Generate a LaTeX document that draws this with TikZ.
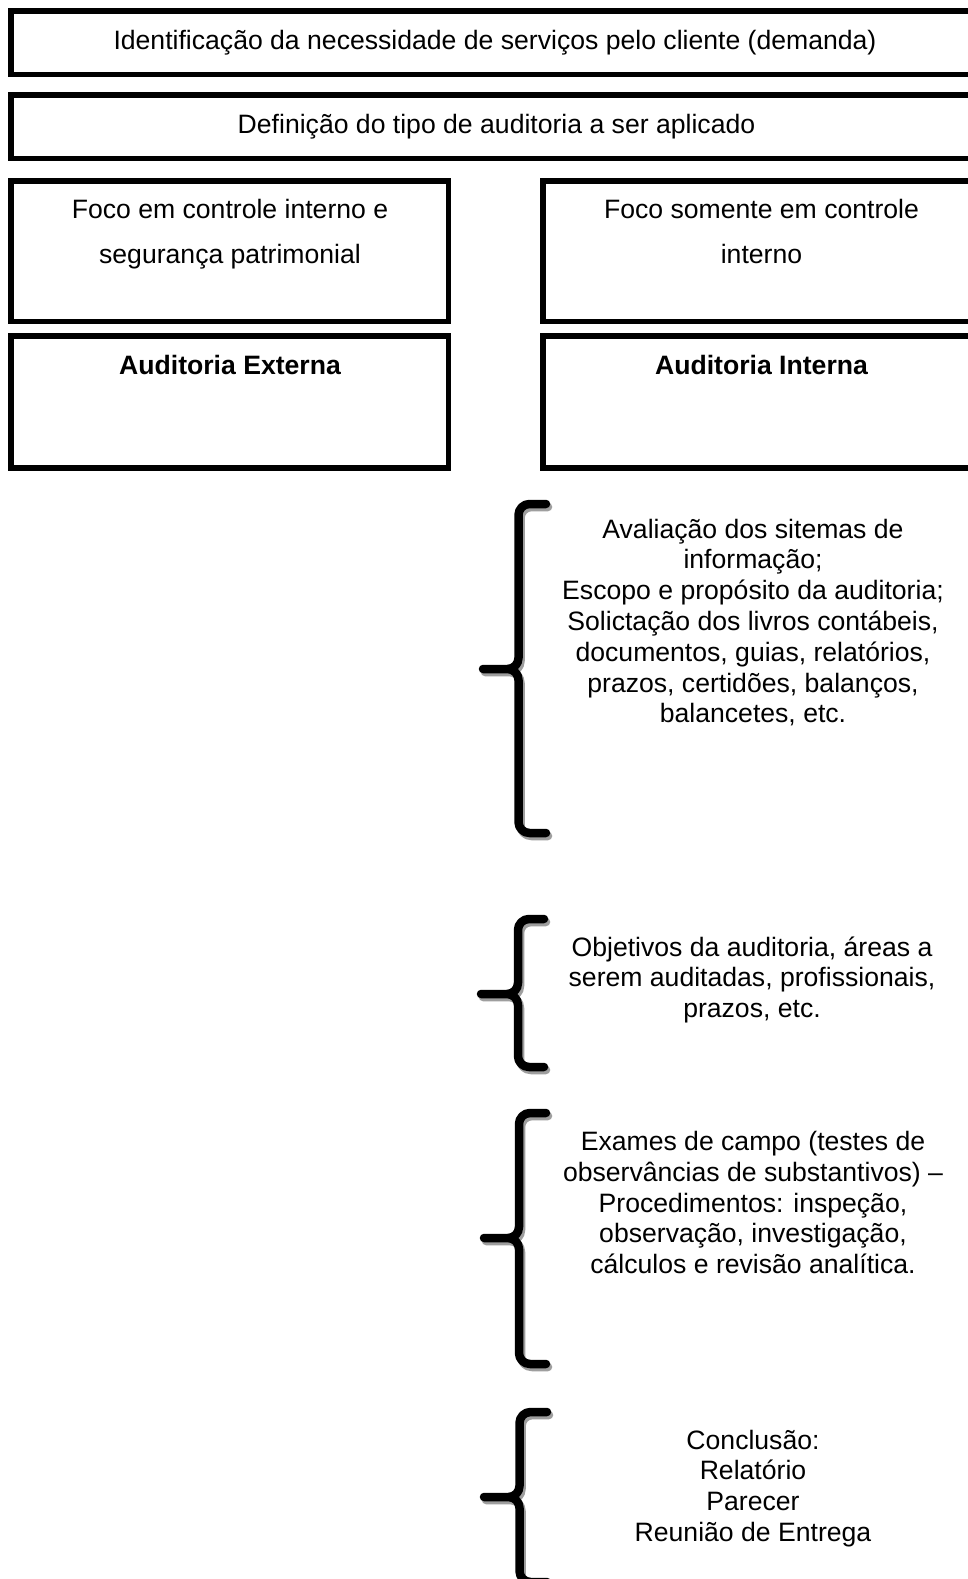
\documentclass[tikz,border=0pt]{standalone}
\usepackage{fontspec}
\setmainfont{Liberation Sans}

% curly brace with a soft grey drop shadow
% #1 stem x, #2 tip x, #3 arm end x, #4 top y, #5 tip y, #6 bottom y
\newcommand\auditbrace[6]{%
  \foreach \dx/\dy/\col in {2/3/black!38, 0/0/black}{%
    \draw[bracestroke, draw=\col, xshift=\dx pt, yshift=-\dy pt]
      (#3,#4) -- (#1,#4) -- (#1,#5) -- (#2,#5)
      (#2,#5) -- (#1,#5) -- (#1,#6) -- (#3,#6);
  }%
}

\begin{document}
\begin{tikzpicture}[x=1pt, y=-1pt,
  frame/.style={draw=black, line width=5.5pt},
  bracestroke/.style={line width=8.5pt, line cap=round, line join=round, rounded corners=11pt},
  boxtext/.style={anchor=base, align=center, inner sep=0pt, font=\fontsize{26.6}{45.5}\selectfont},
  listtext/.style={anchor=base, align=center, inner sep=0pt, font=\fontsize{26.6}{30.8}\selectfont},
]
\useasboundingbox (0,0) rectangle (968,1579);
\fill[white] (0,0) rectangle (968,1579);
\clip (0,0) rectangle (968,1579);

% stacked frames at the top
\draw[frame] (11,11) rectangle (985,74.5);
\draw[frame] (11,95) rectangle (985,158.5);
\draw[frame] (11,181) rectangle (448.5,321.5);
\draw[frame] (543,181) rectangle (985,321.5);
\draw[frame] (11,336) rectangle (448.5,468);
\draw[frame] (543,336) rectangle (985,468);

% multi-line texts are placed by the baseline of their last line
\node[boxtext] (need) at (495,50) {Identificação da necessidade de serviços pelo cliente (demanda)};
\node[boxtext] (tipo) at (496.5,133) {Definição do tipo de auditoria a ser aplicado};
\node[boxtext] (focoext) at (230,263.5) {Foco em controle interno e\\segurança patrimonial};
\node[boxtext] (focoint) at (761.5,263.5) {Foco somente em controle\\interno};
\node[boxtext, font=\fontsize{26.6}{45.5}\selectfont\bfseries] (ext) at (230,374) {Auditoria Externa};
\node[boxtext, font=\fontsize{26.6}{45.5}\selectfont\bfseries] (int) at (761.5,374) {Auditoria Interna};

% braces
\auditbrace{518.5}{483}{546}{504}{669}{833}
\auditbrace{518}{481}{544}{919}{994}{1067}
\auditbrace{519}{484}{546}{1113}{1238}{1364}
\auditbrace{519.5}{484}{547}{1412}{1497}{1582}

% brace texts
\node[listtext] (aval) at (753,722.8) {Avaliação dos sitemas de\\informação;\\Escopo e propósito da auditoria;\\Solictação dos livros contábeis,\\documentos, guias, relatórios,\\prazos, certidões, balanços,\\balancetes, etc.};
\node[listtext] (obj) at (752,1017.6) {Objetivos da auditoria, áreas a\\serem auditadas, profissionais,\\prazos, etc.};
\node[listtext] (exam) at (753,1273.7) {Exames de campo (testes de\\observâncias de substantivos) –\\Procedimentos: inspeção,\\observação, investigação,\\cálculos e revisão analítica.};
\node[listtext] (concl) at (753,1541.4) {Conclusão:\\Relatório\\Parecer\\Reunião de Entrega};
\end{tikzpicture}
\end{document}
